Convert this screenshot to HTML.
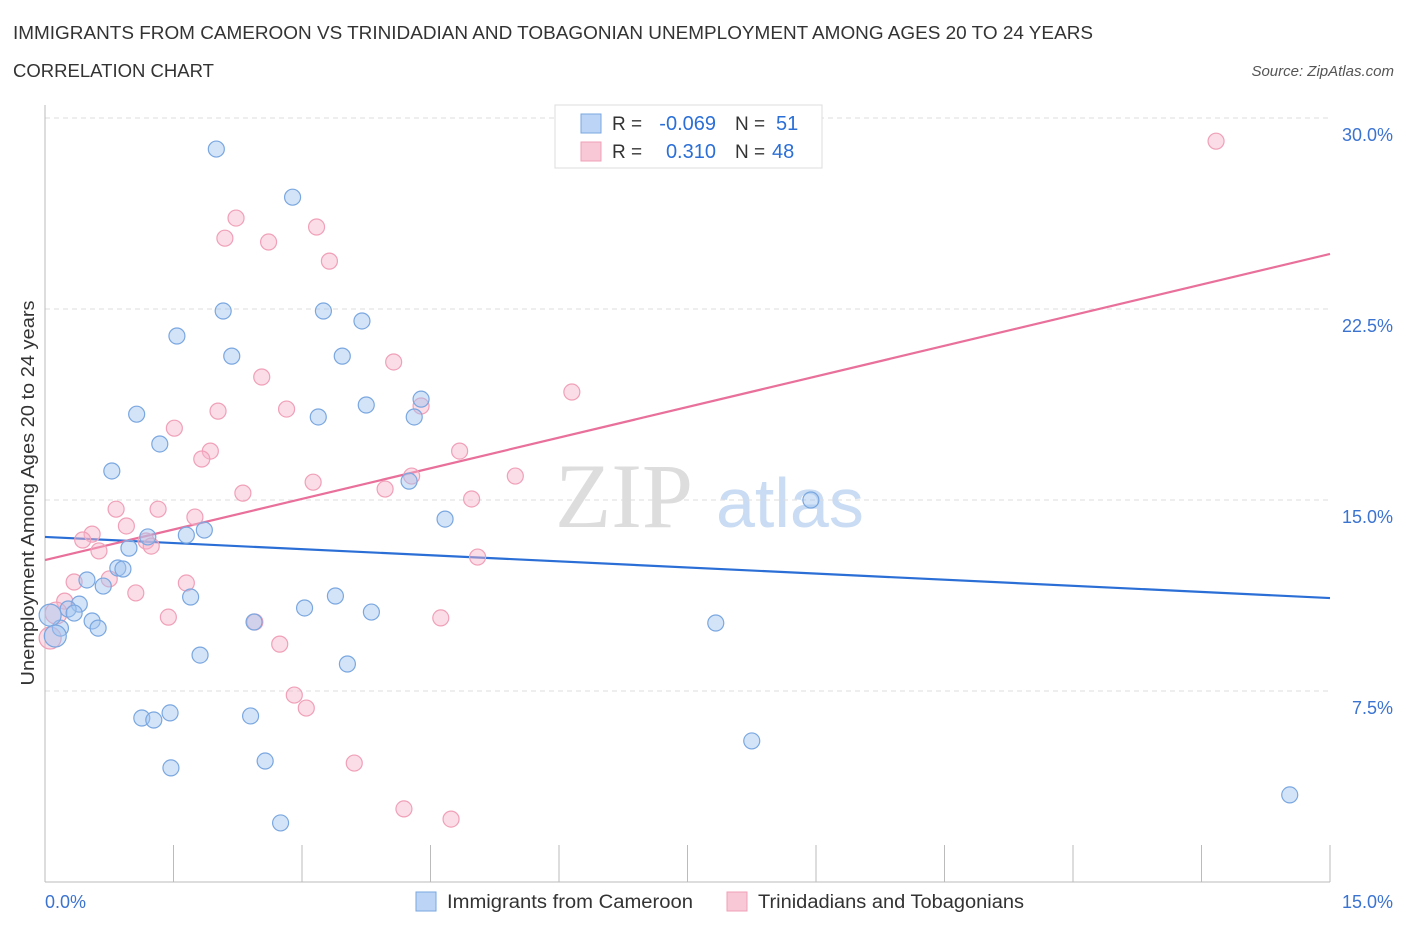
<!DOCTYPE html>
<html><head><meta charset="utf-8"><style>
body{margin:0;background:#fff;font-family:"Liberation Sans",sans-serif}
svg{display:block}
</style></head><body>
<svg width="1406" height="930" xmlns="http://www.w3.org/2000/svg" font-family="Liberation Sans, sans-serif">
<text x="13" y="39" font-size="18" fill="#333" textLength="1080" lengthAdjust="spacingAndGlyphs">IMMIGRANTS FROM CAMEROON VS TRINIDADIAN AND TOBAGONIAN UNEMPLOYMENT AMONG AGES 20 TO 24 YEARS</text>
<text x="13" y="77" font-size="18" fill="#333" textLength="201" lengthAdjust="spacingAndGlyphs">CORRELATION CHART</text>
<text x="1394" y="76" font-size="15" fill="#555" font-style="italic" text-anchor="end">Source: ZipAtlas.com</text>
<g>
<text x="555" y="527" font-size="92" fill="#ddd" font-family="Liberation Serif, serif">ZIP</text>
<text x="716" y="527" font-size="70" fill="#c9dcf3">atlas</text>
</g>
<g id="grid"></g>
<g id="axes"></g>
<g id="lines"></g>
<g id="pts"></g>
<text transform="translate(34,493) rotate(-90)" font-size="18" fill="#333" text-anchor="middle" textLength="385" lengthAdjust="spacingAndGlyphs">Unemployment Among Ages 20 to 24 years</text>
<g>
<rect x="555" y="105" width="267" height="63" fill="#fff" stroke="#ddd"/>
<rect x="581" y="114" width="20" height="19" fill="#bcd4f6" stroke="#7aa7e0"/>
<rect x="581" y="142" width="20" height="19" fill="#f8c8d6" stroke="#f0a0b8"/>
<text x="612" y="130" font-size="19" fill="#333">R =</text>
<text x="716" y="130" font-size="20" fill="#2b6fd6" text-anchor="end">-0.069</text>
<text x="735" y="130" font-size="19" fill="#333">N =</text>
<text x="776" y="130" font-size="20" fill="#2b6fd6">51</text>
<text x="612" y="158" font-size="19" fill="#333">R =</text>
<text x="716" y="158" font-size="20" fill="#2b6fd6" text-anchor="end">0.310</text>
<text x="735" y="158" font-size="19" fill="#333">N =</text>
<text x="772" y="158" font-size="20" fill="#2b6fd6">48</text>
</g>
<g>
<rect x="416" y="892" width="20" height="19" fill="#bcd4f6" stroke="#7aa7e0"/>
<text x="447" y="908" font-size="19" fill="#333" textLength="246" lengthAdjust="spacingAndGlyphs">Immigrants from Cameroon</text>
<rect x="727" y="892" width="20" height="19" fill="#f8c8d6" stroke="#f0a0b8"/>
<text x="758" y="908" font-size="19" fill="#333" textLength="266" lengthAdjust="spacingAndGlyphs">Trinidadians and Tobagonians</text>
</g>
<text x="45" y="908" font-size="18" fill="#3b73d1">0.0%</text>
<text x="1393" y="908" font-size="18" fill="#3b73d1" text-anchor="end">15.0%</text>
</svg>
<script>
const blueX=[2.00,2.89,2.08,3.25,3.70,1.54,2.18,3.47,4.39,3.75,1.07,3.19,4.31,1.34,0.78,4.25,8.94,4.67,1.20,1.65,1.86,0.98,0.85,0.91,0.49,0.68,1.70,0.40,0.27,0.34,3.03,3.39,3.81,0.55,0.62,0.18,2.44,7.83,1.81,3.53,1.13,1.27,1.46,2.40,8.25,2.57,1.47,2.75,14.53,0.06,0.12];
const blueY=[28.78,26.89,22.42,22.42,22.03,21.44,20.65,20.65,18.96,18.73,18.37,18.26,18.26,17.20,16.14,15.74,15.00,14.25,13.55,13.62,13.82,13.11,12.33,12.29,11.86,11.62,11.19,10.91,10.72,10.56,10.76,11.23,10.60,10.25,9.97,9.97,10.21,10.17,8.91,8.56,6.44,6.36,6.64,6.52,5.54,4.75,4.48,2.32,3.42,10.48,9.66];
const pinkX=[13.67,2.23,3.17,2.10,2.61,3.32,4.07,2.53,6.15,4.39,2.82,2.02,1.51,1.93,1.83,4.84,4.28,5.49,3.13,3.97,2.31,4.98,0.83,1.32,1.75,0.95,0.55,0.44,1.18,1.24,0.63,5.05,0.75,0.34,1.65,1.06,0.23,0.13,1.44,2.45,4.62,2.74,2.91,3.05,3.61,4.19,4.74,0.06];
const pinkY=[29.09,26.07,25.72,25.28,25.13,24.38,20.42,19.83,19.24,18.69,18.57,18.49,17.82,16.92,16.61,16.92,15.94,15.94,15.70,15.43,15.27,15.04,14.64,14.64,14.33,13.98,13.66,13.43,13.39,13.19,13.00,12.76,11.90,11.78,11.74,11.35,11.03,10.56,10.40,10.21,10.37,9.34,7.34,6.83,4.67,2.87,2.47,9.58];
const blueTrend=[13.55,11.15];
const pinkTrend=[12.64,24.66];
const yTicks=[7.5,15,22.5,30];
const yTickLabels=["7.5%","15.0%","22.5%","30.0%"];
const xTicks=[0,1.5,3,4.5,6,7.5,9,10.5,12,13.5,15];
const NS="http://www.w3.org/2000/svg";
const X=v=>45+v/15*1285, Y=v=>882-v/30*764;
function mk(p,t,a){const e=document.createElementNS(NS,t);for(const k in a)e.setAttribute(k,a[k]);p.appendChild(e);return e;}
const grid=document.getElementById('grid'),axes=document.getElementById('axes'),lines=document.getElementById('lines'),pts=document.getElementById('pts');
yTicks.forEach((v,i)=>{
 const l=mk(grid,'line',{x1:45,x2:1330,y1:Y(v),y2:Y(v),stroke:'#ddd','stroke-dasharray':'5,4'});
 
 
 const t=mk(axes,'text',{x:1393,y:Y(v)+23,'font-size':18,fill:'#3b73d1','text-anchor':'end'});
 t.textContent=yTickLabels[i];
 
 
});
mk(axes,'line',{x1:45,x2:45,y1:105,y2:882,stroke:'#bbb'});
mk(axes,'line',{x1:45,x2:1330,y1:882,y2:882,stroke:'#bbb'});
xTicks.forEach(v=>{
 const l=mk(axes,'line',{x1:X(v),x2:X(v),y1:845,y2:882,stroke:'#bbb'});
 
 
});
const bl=mk(lines,'line',{x1:X(0),y1:Y(blueTrend[0]),x2:X(15),y2:Y(blueTrend[1]),stroke:'#2b6fd6','stroke-width':2.2});


const pl=mk(lines,'line',{x1:X(0),y1:Y(pinkTrend[0]),x2:X(15),y2:Y(pinkTrend[1]),stroke:'#e8709a','stroke-width':2.2});


function dots(xs,ys,fill,stroke,name){xs.forEach((x,i)=>{
 const r=(x<0.15)?11:8;
 const c=mk(pts,'circle',{cx:X(x),cy:Y(ys[i]),r:r,fill:fill,stroke:stroke,'stroke-width':1.2});
 
 
});}
dots(pinkX,pinkY,'rgba(246,180,202,0.45)','#f0a0b8','trinidad-point');
dots(blueX,blueY,'rgba(160,195,240,0.45)','#7aa7e0','cameroon-point');
</script>
</body></html>
